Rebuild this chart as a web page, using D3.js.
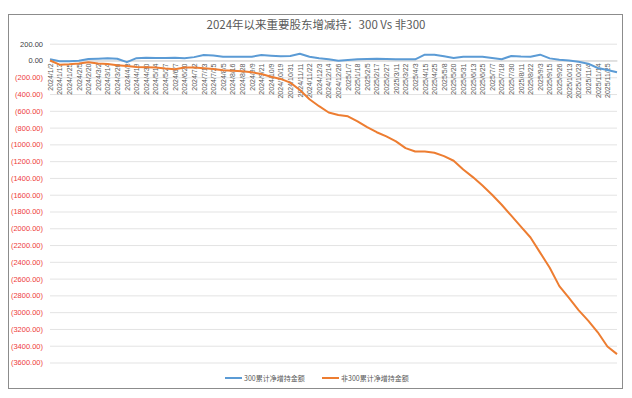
<!DOCTYPE html>
<html>
<head>
<meta charset="utf-8">
<script src="https://cdn.jsdelivr.net/npm/d3@7"></script>
<style>
  body { margin: 0; background: #fff; }
  svg { font-family: "Noto Sans CJK SC", "Noto Sans", sans-serif; }
</style>
</head>
<body>
<div id="chart"></div>
<script>
// category dates shown on the x axis (every 8th trading day)
var dates = [
  '2024/1/2','2024/1/13','2024/1/25','2024/2/5','2024/2/20','2024/3/2','2024/3/14','2024/3/26',
  '2024/4/8','2024/4/19','2024/4/30','2024/5/14','2024/5/27','2024/6/7','2024/6/20','2024/7/2',
  '2024/7/13','2024/7/25','2024/8/5','2024/8/16','2024/8/28','2024/9/9','2024/9/21','2024/10/9',
  '2024/10/19','2024/10/31','2024/11/11','2024/11/22','2024/12/3','2024/12/14','2024/12/26',
  '2025/1/7','2025/1/18','2025/2/5','2025/2/17','2025/2/27','2025/3/11','2025/3/22','2025/4/3',
  '2025/4/15','2025/4/25','2025/5/8','2025/5/20','2025/5/31','2025/6/13','2025/6/25','2025/7/7',
  '2025/7/18','2025/7/30','2025/8/11','2025/8/22','2025/9/3','2025/9/15','2025/9/26','2025/10/13',
  '2025/10/23','2025/11/4','2025/11/14','2025/11/25','2025/11/28'
];
var tickLabels = dates.slice(0, 59);

var hs300 = [
  14, -10, -8, -2, 18, 21, 26, 21, -20, 28, 33, 30, 30, 33, 26, 40,
  65, 60, 45, 45, 45, 45, 65, 57, 50, 54, 80, 45, 26, 14, -2,
  5, 14, 18, 21, 18, 14, 14, 14, 69, 69, 50, 30, 45, 45, 45, 30,
  14, 54, 48, 45, 69, 25, 10, 0, -15, -38, -90, -113, -141
];
var non300 = [
  0, -50, -45, -35, -22, -35, -42, -57, -65, -77, -82, -85, -97, -105, -85, -85,
  -93, -101, -117, -121, -129, -141, -161, -193, -220, -264, -352, -462, -545, -620, -650,
  -665, -725, -795, -855, -905, -965, -1045, -1085, -1085, -1100, -1140, -1195, -1300, -1390, -1490, -1600,
  -1720, -1850, -1980, -2110, -2290, -2470, -2690, -2830, -2975, -3100, -3240, -3410, -3500
];
var yTicks = d3.range(200, -3601, -200);

var seriesNames = ['300累计净增持金额', '非300累计净增持金额'];
var colors = ['#5B9BD5', '#ED7D31'];

var W = 632, H = 398;
var svg = d3.select('#chart').append('svg')
  .attr('width', W)
  .attr('height', H);

// chart frame
svg.append('rect')
  .attr('x', 8.5).attr('y', 14.5)
  .attr('width', 614).attr('height', 374)
  .attr('fill', '#fff')
  .attr('stroke', '#8c8c8c')
  .attr('stroke-width', 1);

svg.append('text')
  .attr('x', 316).attr('y', 29)
  .attr('text-anchor', 'middle')
  .attr('font-size', '11.5px')
  .attr('fill', '#595959')
  .text('2024年以来重要股东增减持：300 Vs 非300');

var x = d3.scalePoint().domain(dates).range([50, 617]);
var y = d3.scaleLinear().domain([-3600, 200]).range([362.5, 43.7]);

// gridlines
svg.append('g')
  .selectAll('line')
  .data(yTicks)
  .enter().append('line')
  .attr('x1', 50).attr('x2', 617)
  .attr('y1', function(d) { return y(d) + 0.5; })
  .attr('y2', function(d) { return y(d) + 0.5; })
  .attr('stroke', '#e3e3e3')
  .attr('stroke-width', 1);

// y axis labels
var fmt = d3.format(',.2f');
var yAxis = d3.axisLeft(y)
  .tickValues(yTicks)
  .tickSize(0)
  .tickPadding(0)
  .tickFormat(function(d) { return d < 0 ? '(' + fmt(-d).replace(/,/g, '') + ')' : fmt(d); });
var gy = svg.append('g')
  .attr('transform', 'translate(43,0)')
  .call(yAxis);
gy.select('.domain').remove();
gy.selectAll('text')
  .attr('font-size', '7.5px')
  .attr('font-family', '"Liberation Sans", sans-serif')
  .attr('fill', function(d) { return d < 0 ? '#ee3b3b' : '#404040'; });

// x axis at zero
var xAxis = d3.axisBottom(x)
  .tickValues(tickLabels)
  .tickSize(0)
  .tickPadding(0);
var gx = svg.append('g')
  .attr('transform', 'translate(0,' + y(0) + ')')
  .call(xAxis);
gx.select('.domain')
  .attr('stroke', '#d0d0d0');
gx.selectAll('text')
  .attr('font-size', '7px')
  .attr('font-family', '"Liberation Sans", sans-serif')
  .attr('fill', '#595959')
  .attr('text-anchor', 'end')
  .attr('dy', '0.32em')
  .attr('transform', 'translate(0,3) rotate(-90)')
  .attr('x', 0).attr('y', 0);

// series lines
var line = d3.line()
  .x(function(d, i) { return x(dates[i]); })
  .y(function(d) { return y(d); });
[hs300, non300].forEach(function(s, k) {
  svg.append('path')
    .datum(s)
    .attr('fill', 'none')
    .attr('stroke', colors[k])
    .attr('stroke-width', 2)
    .attr('stroke-linejoin', 'round')
    .attr('d', line);
});

// legend
var legendX = [225, 322];
seriesNames.forEach(function(name, k) {
  var g = svg.append('g').attr('transform', 'translate(' + legendX[k] + ',378)');
  g.append('line')
    .attr('x1', 0).attr('x2', 17)
    .attr('stroke', colors[k])
    .attr('stroke-width', 2);
  g.append('text')
    .attr('x', 19).attr('y', 2.5)
    .attr('font-size', '7px')
    .attr('fill', '#595959')
    .text(name);
});
</script>
</body>
</html>
